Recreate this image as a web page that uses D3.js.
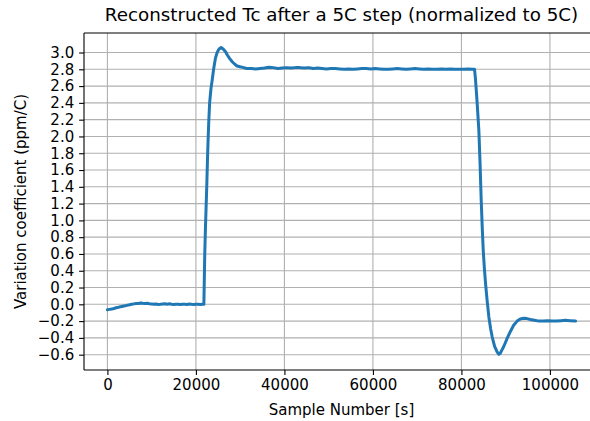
<!DOCTYPE html>
<html>
<head>
<meta charset="utf-8">
<script src="https://cdn.jsdelivr.net/npm/d3@7"></script>
<style>
  html, body { margin: 0; padding: 0; background: #fff; }
  svg { display: block; font-family: "DejaVu Sans", sans-serif; }
</style>
</head>
<body>
<svg id="chart" width="590" height="421"></svg>
<script>
// Sample index [s] and reconstructed temperature coefficient (ppm/C)
const sampleX = [
  0, 500, 1000, 1500, 2000, 2500, 3000, 3500, 4000, 4500, 5000, 5500, 6000, 6500, 7000, 7500,
  8000, 8500, 9000, 9500, 10000, 10500, 11000, 11500, 12000, 12500, 13000, 13500, 14000, 14500,
  15000, 15500, 16000, 16500, 17000, 17500, 18000, 18500, 19000, 19500, 20000, 20500, 21000,
  21500, 21800,
  21900, 22000, 22150, 22300, 22450, 22600, 22750, 22900, 23100, 23400, 23700, 24000, 24400,
  24800, 25200, 25700, 26200, 26700, 27100, 27600, 28200, 28800, 29300, 30000, 30800, 31500,
  32500, 33500, 34500, 35500, 36500, 37500, 38500, 39500, 40500, 41500, 42500, 43500, 44500,
  45500, 46500, 47500, 48500, 49500, 50500, 51500, 52500, 53500, 54500, 55500, 56500, 57500,
  58500, 59500, 60500, 61500, 62500, 63500, 64500, 65500, 66500, 67500, 68500, 69500, 70500,
  71500, 72500, 73500, 74500, 75500, 76500, 77500, 78500, 79500, 80500, 81500, 82500, 82960,
  83150, 83400, 83650, 83940, 84200, 84470, 84700, 84930, 85200, 85450, 85800, 86200, 86600,
  86960, 87500, 88090, 88460, 88800, 89200, 89590, 90300, 91100, 91800, 92600, 93300, 94100,
  94800, 95600, 96500, 97500, 98500, 99500, 100500, 101500, 102500, 103500, 104500, 105800
];
const tcValue = [
  -0.065, -0.06, -0.055, -0.05, -0.04, -0.035, -0.028, -0.022, -0.018, -0.01, -0.006, 0.0, 0.005,
  0.01, 0.01, 0.015, 0.012, 0.01, 0.012, 0.008, 0.005, 0.0, 0.003, -0.002, 0.0, 0.004, 0.006,
  0.002, 0.006, 0.0, -0.002, 0.002, 0.0, -0.003, 0.002, 0.0, -0.002, 0.003, 0.0, -0.002, 0.002,
  0.0, -0.003, 0.002, 0.0,
  0.3, 0.6, 0.9, 1.15, 1.4, 1.7, 1.95, 2.17, 2.4, 2.57, 2.68, 2.8, 2.93,
  3.0, 3.04, 3.06, 3.04, 3.01, 2.97, 2.93, 2.89, 2.86, 2.84, 2.83, 2.82, 2.81,
  2.81, 2.805, 2.81, 2.815, 2.825, 2.82, 2.81, 2.815, 2.82, 2.815, 2.82, 2.82, 2.815,
  2.82, 2.81, 2.815, 2.81, 2.805, 2.81, 2.81, 2.805, 2.80, 2.805, 2.80, 2.805, 2.81,
  2.81, 2.805, 2.81, 2.805, 2.80, 2.80, 2.805, 2.81, 2.805, 2.80, 2.805, 2.81, 2.805,
  2.80, 2.805, 2.80, 2.80, 2.805, 2.80, 2.805, 2.80, 2.80, 2.80, 2.805, 2.80, 2.80,
  2.70, 2.52, 2.32, 2.07, 1.70, 1.24, 0.92, 0.64, 0.42, 0.25, 0.05, -0.15, -0.29,
  -0.39, -0.50, -0.57, -0.595, -0.58, -0.54, -0.50, -0.41, -0.32, -0.25, -0.20, -0.175, -0.165,
  -0.17, -0.18, -0.19, -0.20, -0.20, -0.195, -0.20, -0.20, -0.195, -0.19, -0.195, -0.20
];
const xTicks = [0, 20000, 40000, 60000, 80000, 100000];
const yTicks = [-0.6, -0.4, -0.2, 0.0, 0.2, 0.4, 0.6, 0.8, 1.0, 1.2, 1.4, 1.6, 1.8, 2.0,
                2.2, 2.4, 2.6, 2.8, 3.0];
const titleText = "Reconstructed Tc after a 5C step (normalized to 5C)";
const xLabel = "Sample Number [s]";
const yLabel = "Variation coefficient (ppm/C)";

const points = sampleX.map((x, i) => ({ x, y: tcValue[i] }));

const plot = { left: 84, right: 599, top: 33, bottom: 370 };
const svg = d3.select("#chart");

// Axis limits with 5% padding around the data extent
const xExt = d3.extent(sampleX), yExt = [-0.6, 3.05];
const xPad = (xExt[1] - xExt[0]) * 0.05, yPad = (yExt[1] - yExt[0]) * 0.05;
const x = d3.scaleLinear().domain([xExt[0] - xPad, xExt[1] + xPad]).range([plot.left, plot.right]);
const y = d3.scaleLinear().domain([yExt[0] - yPad, yExt[1] + yPad]).range([plot.bottom, plot.top]);

svg.append("defs").append("clipPath").attr("id", "plotClip")
  .append("rect")
  .attr("x", plot.left).attr("y", plot.top)
  .attr("width", plot.right - plot.left).attr("height", plot.bottom - plot.top);

// Grid
const grid = svg.append("g").attr("stroke", "#b0b0b0").attr("stroke-width", 1.1);
grid.selectAll("line.gx").data(xTicks).join("line")
  .attr("x1", d => x(d)).attr("x2", d => x(d))
  .attr("y1", plot.top).attr("y2", plot.bottom);
grid.selectAll("line.gy").data(yTicks).join("line")
  .attr("x1", plot.left).attr("x2", plot.right)
  .attr("y1", d => y(d)).attr("y2", d => y(d));

// Data line
svg.append("path")
  .datum(points)
  .attr("clip-path", "url(#plotClip)")
  .attr("fill", "none")
  .attr("stroke", "#1f77b4")
  .attr("stroke-width", 3)
  .attr("stroke-linejoin", "round")
  .attr("stroke-linecap", "round")
  .attr("d", d3.line().x(d => x(d.x)).y(d => y(d.y)));

// Axes
const xAxis = d3.axisBottom(x).tickValues(xTicks).tickFormat(d3.format("d"))
  .tickSize(4.9).tickPadding(4.9);
const yAxis = d3.axisLeft(y).tickValues(yTicks).tickFormat(d3.format(".1f"))
  .tickSize(4.9).tickPadding(4.9);

const gx = svg.append("g").attr("transform", `translate(0,${plot.bottom})`).call(xAxis);
const gy = svg.append("g").attr("transform", `translate(${plot.left},0)`).call(yAxis);
[gx, gy].forEach(g => {
  g.select(".domain").remove();
  g.selectAll(".tick line").attr("stroke", "#000").attr("stroke-width", 1.1);
  g.selectAll(".tick text").attr("fill", "#000")
    .style("font-size", "15px").style("font-family", "'DejaVu Sans', sans-serif");
});
gy.selectAll(".tick text").text(d => d3.format(".1f")(d).replace("-", "\u2212"));

// Spines
const spines = svg.append("g").attr("stroke", "#000").attr("stroke-width", 1.1).attr("fill", "none");
spines.append("line").attr("x1", plot.left).attr("x2", plot.left).attr("y1", plot.top).attr("y2", plot.bottom);
spines.append("line").attr("x1", plot.left).attr("x2", plot.right).attr("y1", plot.bottom).attr("y2", plot.bottom);
spines.append("line").attr("x1", plot.left).attr("x2", plot.right).attr("y1", plot.top).attr("y2", plot.top);
spines.append("line").attr("x1", plot.right).attr("x2", plot.right).attr("y1", plot.top).attr("y2", plot.bottom);

// Labels
const cx = (plot.left + plot.right) / 2;
svg.append("text").attr("x", cx).attr("y", 21).attr("text-anchor", "middle")
  .style("font-size", "18.3px").attr("fill", "#000").text(titleText);
svg.append("text").attr("x", cx).attr("y", 415).attr("text-anchor", "middle")
  .style("font-size", "15px").attr("fill", "#000").text(xLabel);
svg.append("text")
  .attr("transform", `translate(26,${(plot.top + plot.bottom) / 2}) rotate(-90)`)
  .attr("text-anchor", "middle")
  .style("font-size", "15px").attr("fill", "#000").text(yLabel);
</script>
</body>
</html>
